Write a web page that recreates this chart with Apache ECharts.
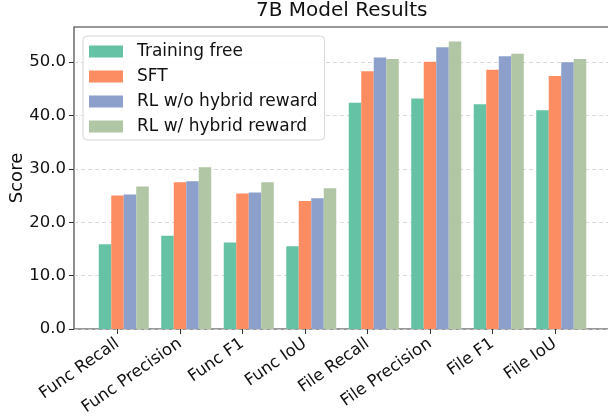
<!DOCTYPE html>
<html>
<head>
<meta charset="utf-8">
<script src="https://cdn.jsdelivr.net/npm/echarts@6/dist/echarts.min.js"></script>
<style>
html,body{margin:0;padding:0;background:#fff;}
#chart{width:608px;height:420px;}
</style>
</head>
<body>
<div id="chart"></div>
<script>
const categories = ['Func Recall','Func Precision','Func F1','Func IoU','File Recall','File Precision','File F1','File IoU'];
const seriesNames = ['Training free','SFT','RL w/o hybrid reward','RL w/ hybrid reward'];
const trainingFree = [15.9, 17.5, 16.2, 15.5, 42.4, 43.2, 42.1, 41.0];
const sft          = [25.0, 27.5, 25.4, 24.0, 48.3, 50.1, 48.6, 47.4];
const rlNoHybrid   = [25.2, 27.7, 25.6, 24.5, 50.9, 52.8, 51.1, 50.0];
const rlHybrid     = [26.7, 30.3, 27.5, 26.4, 50.6, 53.9, 51.6, 50.6];
const yTicks = [0, 10, 20, 30, 40, 50];

const colors = ['#66c2a5','#fc8d62','#8da0cb','#b0c6a5'];
const allSeries = [trainingFree, sft, rlNoHybrid, rlHybrid];
const font = 'DejaVu Sans';
const yMax = 56.6;

const chart = echarts.init(document.getElementById('chart'), null, {renderer:'canvas'});

const barSeries = allSeries.map((arr, s) => ({
  name: seriesNames[s],
  type: 'bar',
  xAxisIndex: 1, yAxisIndex: 1,
  barWidth: 12.5,
  barGap: '0%',
  itemStyle: {color: colors[s]},
  data: arr
}));
// empty leading slot so that the tick sits under the second bar of each group
barSeries.unshift({name: 'slot', type: 'bar', xAxisIndex: 1, yAxisIndex: 1, barWidth: 12.5, barGap: '0%', data: []});

chart.setOption({
  animation: false,
  backgroundColor: '#fff',
  title: {
    text: '7B Model Results',
    left: 256, top: 1, padding: 0,
    textStyle: {fontFamily: font, fontSize: 20, fontWeight: 'normal', color: '#111'}
  },
  legend: {
    orient: 'vertical',
    left: 83, top: 36,
    padding: [7, 7, 5, 6],
    itemWidth: 34, itemHeight: 12, itemGap: 8,
    icon: 'rect',
    backgroundColor: 'rgba(255,255,255,0.85)',
    borderColor: '#d6d6d6', borderWidth: 1, borderRadius: 4,
    textStyle: {fontFamily: font, fontSize: 17, color: '#111', lineHeight: 17, padding: [0,0,0,9]},
    data: seriesNames
  },
  grid: [
    {left: 74, top: 27, width: 536, height: 302, outerBoundsMode: 'none', containLabel: false,
     show: true, borderColor: '#333', borderWidth: 1.1, backgroundColor: 'transparent'},
    {left: 86.25, top: 27, width: 500, height: 302, outerBoundsMode: 'none', containLabel: false, show: false}
  ],
  xAxis: [
    {gridIndex: 0, type: 'value', min: 0, max: 1, show: false},
    {
      gridIndex: 1, type: 'category', data: categories, boundaryGap: true,
      axisLine: {show: false},
      axisTick: {show: true, alignWithLabel: true, length: 5, lineStyle: {color: '#333'}},
      axisLabel: {rotate: 35, margin: 13, interval: 0, hideOverlap: false, fontFamily: font, fontSize: 16.5, color: '#111'},
      splitLine: {show: false}
    }
  ],
  yAxis: [
    {
      gridIndex: 0, type: 'value', min: 0, max: yMax,
      name: 'Score', nameLocation: 'middle', nameGap: 48, nameRotate: 90, nameMoveOverlap: false,
      nameTextStyle: {fontFamily: font, fontSize: 18, color: '#111'},
      axisLine: {show: false},
      axisTick: {show: true, customValues: yTicks, length: 5, lineStyle: {color: '#333'}},
      axisLabel: {customValues: yTicks, margin: 8, fontFamily: font, fontSize: 16.5, color: '#111', formatter: v => v.toFixed(1)},
      splitLine: {show: true, lineStyle: {color: '#d0d0d0', type: [4, 3], width: 0.8}}
    },
    {gridIndex: 1, type: 'value', min: 0, max: yMax, show: false, splitLine: {show: false}}
  ],
  series: barSeries
});
</script>
</body>
</html>
